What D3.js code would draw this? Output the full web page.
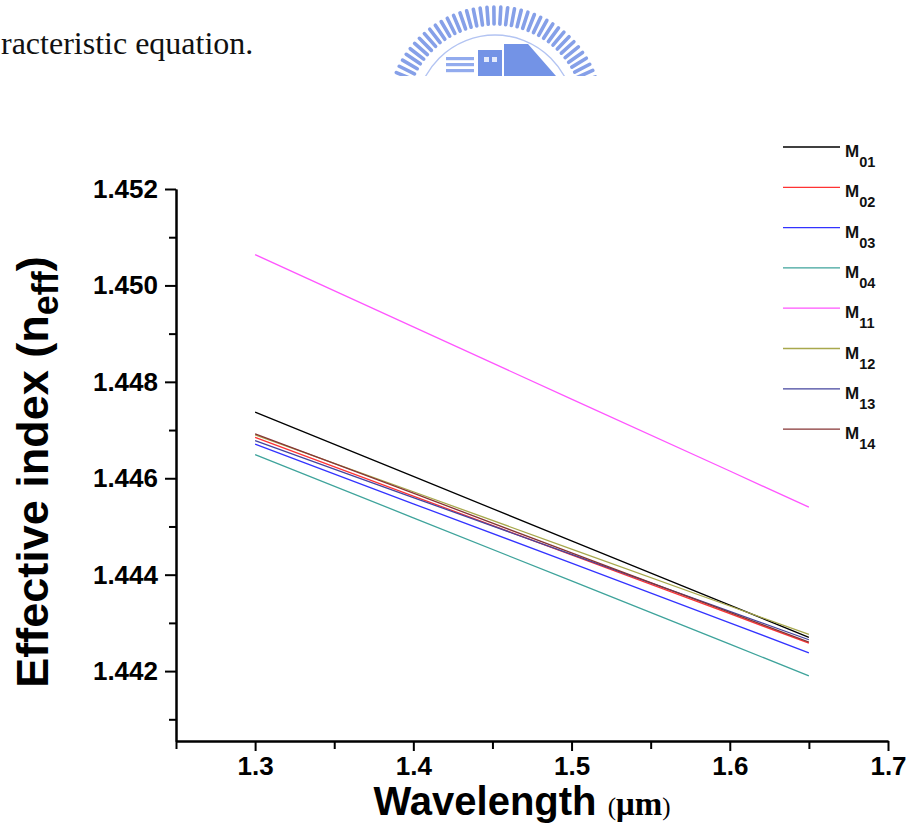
<!DOCTYPE html>
<html>
<head>
<meta charset="utf-8">
<script src="https://cdn.jsdelivr.net/npm/d3@7"></script>
<style>
  html, body { margin: 0; padding: 0; background: #fff; }
  svg { display: block; }
</style>
</head>
<body>
<svg id="chart" width="910" height="827"></svg>
<script>
// Effective index of the guided modes versus wavelength
const wavelengths = [1.30, 1.40, 1.50, 1.60, 1.65];
const modeNames = ["M01", "M02", "M03", "M04", "M11", "M12", "M13", "M14"];
const modeColors = ["#000000", "#ff3333", "#3333ff", "#3ea39b", "#ff55ff", "#a8a84c", "#44449e", "#863434"];
const nM01 = [1.44737, 1.44604, 1.44470, 1.44337, 1.44270];
const nM02 = [1.44685, 1.44563, 1.44441, 1.44319, 1.44258];
const nM03 = [1.44671, 1.44547, 1.44424, 1.44300, 1.44238];
const nM04 = [1.44649, 1.44518, 1.44387, 1.44256, 1.44190];
const nM11 = [1.45064, 1.44914, 1.44764, 1.44615, 1.44540];
const nM12 = [1.44690, 1.44572, 1.44453, 1.44335, 1.44276];
const nM13 = [1.44678, 1.44560, 1.44442, 1.44324, 1.44265];
const nM14 = [1.44692, 1.44569, 1.44445, 1.44322, 1.44260];
const xTicks = [1.3, 1.4, 1.5, 1.6, 1.7];
const xMinorTicks = [1.25, 1.35, 1.45, 1.55, 1.65];
const yTicks = [1.442, 1.444, 1.446, 1.448, 1.450, 1.452];
const yMinorTicks = [1.441, 1.443, 1.445, 1.447, 1.449, 1.451];

const modeValues = [nM01, nM02, nM03, nM04, nM11, nM12, nM13, nM14];
const series = modeNames.map((name, i) => ({
  name, color: modeColors[i],
  points: wavelengths.map((w, j) => ({ w, n: modeValues[i][j] }))
}));

const svg = d3.select("#chart");
const SANS = "'Liberation Sans', Arial, Helvetica, sans-serif";
const SERIF = "'Liberation Serif', 'Times New Roman', serif";

// ---- page fragment above the figure: body text and the emblem ----
svg.append("text")
  .attr("x", 1).attr("y", 54)
  .attr("font-family", SERIF).attr("font-size", 32)
  .attr("fill", "#111")
  .text("racteristic equation.");

svg.append("defs").append("clipPath").attr("id", "emblemClip")
  .append("rect").attr("x", 0).attr("y", 0).attr("width", 910).attr("height", 76);
const emblem = svg.append("g").attr("clip-path", "url(#emblemClip)");
const ec = { x: 495, y: 114 };
const rad = a => a * Math.PI / 180;
const dashAngles = d3.range(-82, 83, 3.7);
emblem.selectAll("line.ray").data(dashAngles).join("line")
  .attr("class", "ray")
  .attr("x1", a => ec.x + 90 * Math.sin(rad(a)))
  .attr("y1", a => ec.y - 90 * Math.cos(rad(a)))
  .attr("x2", a => ec.x + 107 * Math.sin(rad(a)))
  .attr("y2", a => ec.y - 107 * Math.cos(rad(a)))
  .attr("stroke", "#86a0e8").attr("stroke-width", 3.6).attr("stroke-linecap", "round");
emblem.append("circle")
  .attr("cx", ec.x).attr("cy", ec.y).attr("r", 79)
  .attr("fill", "none").attr("stroke", "#b3c4f2").attr("stroke-width", 1.4);
[57, 63, 69].forEach(yy => {
  emblem.append("rect").attr("x", 446).attr("y", yy).attr("width", 28).attr("height", 3.2).attr("fill", "#92abee");
});
emblem.append("rect").attr("x", 478).attr("y", 50).attr("width", 24).attr("height", 26).attr("fill", "#7393e6");
emblem.append("path").attr("d", "M504,76 L504,44 L528,44 L556,76 Z").attr("fill", "#7393e6");
emblem.append("rect").attr("x", 484).attr("y", 57).attr("width", 5).attr("height", 5).attr("fill", "#e3eafb");
emblem.append("rect").attr("x", 492).attr("y", 57).attr("width", 5).attr("height", 5).attr("fill", "#e3eafb");

// ---- plot ----
const AXIS_Y = 741;
const x = d3.scaleLinear().domain([1.25, 1.7]).range([176, 888]);
const y = d3.scaleLinear().domain([1.44055, 1.452]).range([AXIS_Y, 189]);

function styleAxis(g) {
  g.select(".domain").attr("stroke", "#000").attr("stroke-width", 2);
  g.selectAll(".tick line").attr("stroke", "#000").attr("stroke-width", 2);
  g.selectAll(".tick text")
    .attr("font-family", SANS).attr("font-size", 26).attr("font-weight", "bold").attr("fill", "#000");
}

// minor ticks
svg.append("g").attr("transform", "translate(176,0)")
  .call(d3.axisLeft(y).tickValues(yMinorTicks).tickSize(7).tickSizeOuter(0).tickFormat(""))
  .call(styleAxis);
svg.append("g").attr("transform", `translate(0,${AXIS_Y})`)
  .call(d3.axisBottom(x).tickValues(xMinorTicks).tickSize(8).tickSizeOuter(0).tickFormat(""))
  .call(styleAxis);

// major ticks with labels
svg.append("g").attr("transform", "translate(176,0)")
  .call(d3.axisLeft(y).tickValues(yTicks).tickSize(11).tickSizeOuter(0).tickPadding(7).tickFormat(d3.format(".3f")))
  .call(styleAxis);
svg.append("g").attr("transform", `translate(0,${AXIS_Y})`)
  .call(d3.axisBottom(x).tickValues(xTicks).tickSize(10).tickSizeOuter(0).tickPadding(6).tickFormat(d3.format(".1f")))
  .call(styleAxis);

// mode curves
const line = d3.line().x(d => x(d.w)).y(d => y(d.n));
svg.append("g").selectAll("path").data(series).join("path")
  .attr("d", d => line(d.points))
  .attr("fill", "none")
  .attr("stroke", d => d.color)
  .attr("stroke-width", 1.3);

// legend
const legend = svg.append("g");
const legendRow = i => 147 + i * 40.3;
series.forEach((s, i) => {
  const ly = legendRow(i);
  legend.append("line")
    .attr("x1", 783).attr("x2", 840).attr("y1", ly).attr("y2", ly)
    .attr("stroke", s.color).attr("stroke-width", 1.3);
  const t = legend.append("text")
    .attr("x", 845).attr("y", ly + 10)
    .attr("font-family", SANS).attr("font-weight", "bold").attr("font-size", 17).attr("fill", "#111");
  t.append("tspan").text(s.name.charAt(0));
  t.append("tspan").attr("dy", 10).attr("font-size", 14.5).text(s.name.slice(1));
});

// axis titles
const xt = svg.append("text")
  .attr("x", 522).attr("y", 815)
  .attr("text-anchor", "middle")
  .attr("fill", "#000");
xt.append("tspan").attr("font-family", SANS).attr("font-weight", "bold").attr("font-size", 40).text("Wavelength ");
xt.append("tspan").attr("font-family", SERIF).attr("font-size", 25).text("(");
xt.append("tspan").attr("font-family", SERIF).attr("font-weight", "bold").attr("font-size", 33).text("\u03bcm");
xt.append("tspan").attr("font-family", SERIF).attr("font-size", 25).text(")");

const yt = svg.append("text")
  .attr("transform", "translate(48,472) rotate(-90)")
  .attr("text-anchor", "middle")
  .attr("font-family", SANS).attr("font-weight", "bold").attr("font-size", 45)
  .attr("fill", "#000");
yt.append("tspan").text("Effective index (n");
yt.append("tspan").attr("dy", 10).attr("font-size", 36).text("eff");
yt.append("tspan").attr("dy", -10).text(")");
</script>
</body>
</html>
